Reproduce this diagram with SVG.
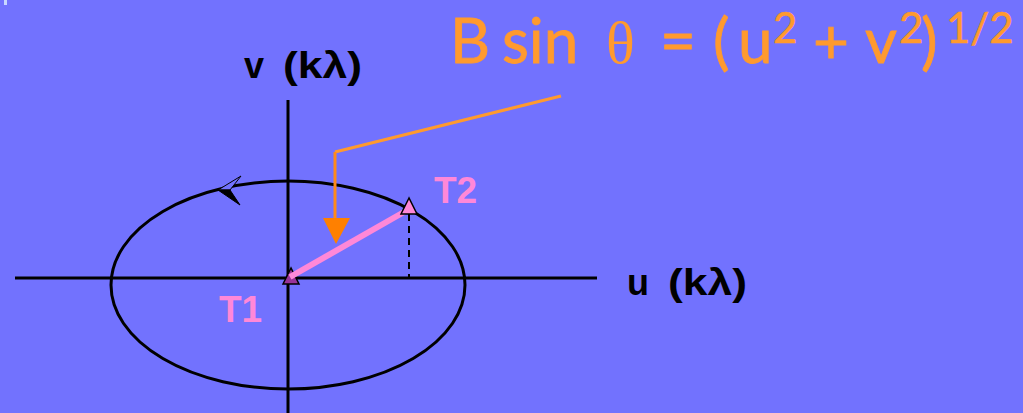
<svg xmlns="http://www.w3.org/2000/svg" width="1023" height="413" viewBox="0 0 1023 413">
  <style>
    .axis { stroke: #000; stroke-width: 3; fill: none; }
    .lbl { font-family: "Liberation Sans", Arial, sans-serif; font-weight: bold; fill: #000; font-size: 36px; }
    .tlbl { font-family: "Liberation Sans", Arial, sans-serif; font-weight: bold; fill: #FF88D8; font-size: 37px; }
    .eq { font-family: Lato, "Open Sans", sans-serif; fill: #FF9A2E; stroke: #FF9A2E; stroke-width: 0.8; font-size: 62px; }
    .sup { font-family: Lato, "Open Sans", sans-serif; fill: #FF9A2E; stroke: #FF9A2E; stroke-width: 0.6; font-size: 42px; }
  </style>
  <rect x="0" y="0" width="1023" height="413" fill="#7272FE"/>
  <rect x="4" y="0" width="3" height="5" fill="#C8D8FF"/>

  <g id="axes">
    <line class="axis" x1="15" y1="278" x2="597" y2="278"/>
    <line class="axis" x1="288" y1="100" x2="288" y2="413"/>
  </g>

  <g id="ellipse">
    <ellipse cx="288" cy="285" rx="177" ry="104" class="axis"/>
    <polygon points="218,190 241,176 230,190" fill="#7272FE" stroke="#000" stroke-width="1"/>
    <polygon points="218,190 230,190 240,205" fill="#000" stroke="#000" stroke-width="1"/>
  </g>

  <g id="v-label">
    <text class="lbl" x="244" y="78">v</text>
    <text class="lbl" x="283" y="78" textLength="79" lengthAdjust="spacingAndGlyphs">(kλ)</text>
  </g>
  <g id="u-label">
    <text class="lbl" x="627" y="295">u</text>
    <text class="lbl" x="668" y="295" textLength="79" lengthAdjust="spacingAndGlyphs">(kλ)</text>
  </g>

  <g id="formula">
    <text class="eq" y="63"><tspan x="450">B</tspan><tspan x="502">sin</tspan></text>
    <text y="63" x="606" font-family="Liberation Serif, serif" font-size="60" fill="#FF9A2E">θ</text>
    <text class="eq" y="63"><tspan x="660">=</tspan><tspan x="713">(</tspan><tspan x="738">u</tspan></text>
    <text class="eq" y="63"><tspan x="813">+</tspan><tspan x="865">v</tspan></text>
    <text class="eq" y="63" x="921">)</text>
    <text class="sup" y="43" x="773">2</text>
    <text class="sup" y="43" x="899">2</text>
    <text class="sup" y="43" x="946">1/2</text>
  </g>

  <g id="connectors">
    <line x1="409" y1="214" x2="409" y2="278" stroke="#000" stroke-width="2" stroke-dasharray="7,5"/>
    <polyline points="561,96 335,152" fill="none" stroke="#FF9A2E" stroke-width="3"/>
    <polyline points="335,152 335,219" fill="none" stroke="#FF8A1A" stroke-width="3"/>
    <polygon points="323,218 350,218 336,244" fill="#FF8000"/>
  </g>

  <g id="T1">
    <polygon points="291,268 283,284 299,284" fill="#993399" stroke="#000" stroke-width="1.5"/>
    <text class="tlbl" x="219" y="322">T1</text>
  </g>

  <g id="baseline">
    <line x1="290" y1="277" x2="404" y2="212" stroke="#FF88D8" stroke-width="6"/>
  </g>

  <g id="T2">
    <polygon points="409,198 401,214 417,214" fill="#FF88D8" stroke="#000" stroke-width="1.5"/>
    <text class="tlbl" x="434" y="203">T2</text>
  </g>
</svg>
